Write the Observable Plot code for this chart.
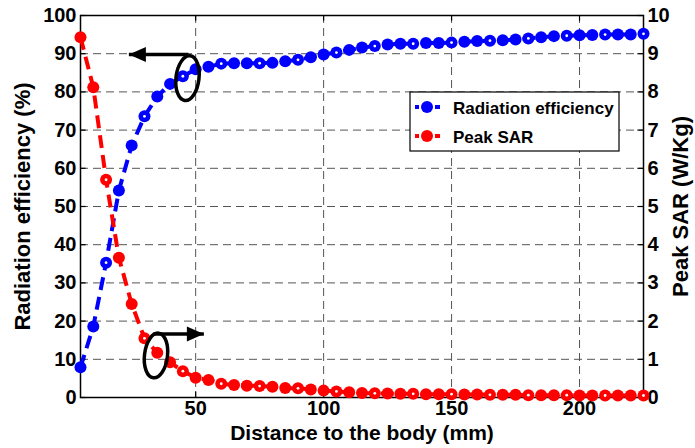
<!DOCTYPE html>
<html>
<head>
<meta charset="utf-8">
<script src="https://cdn.jsdelivr.net/npm/d3@7"></script>
<script src="https://cdn.jsdelivr.net/npm/@observablehq/plot@0.6"></script>
<style>
  html, body { margin: 0; padding: 0; background: white; }
</style>
</head>
<body>
<div id="chart"></div>
<script>
// ---- data ----
const distance = [5,10,15,20,25,30,35,40,45,50,55,60,65,70,75,80,85,90,95,100,
  105,110,115,120,125,130,135,140,145,150,155,160,165,170,175,180,185,190,195,200,
  205,210,215,220,225];
const efficiency = [7.9,18.6,35.3,54.2,66.0,73.6,78.8,82.1,84.1,85.9,86.6,87.4,
  87.5,87.5,87.5,87.6,88.0,88.4,89.1,89.8,
  90.3,91.0,91.6,92.0,92.4,92.6,92.6,92.8,92.8,92.9,
  93.1,93.3,93.4,93.5,93.7,94.0,94.3,94.6,94.7,94.8,
  94.9,95.0,95.0,95.0,95.2];
const peakSAR = [9.43,8.12,5.70,3.66,2.45,1.55,1.17,0.92,0.69,0.52,0.46,0.36,
  0.33,0.31,0.30,0.28,0.25,0.24,0.21,0.18,
  0.16,0.14,0.12,0.11,0.105,0.097,0.097,0.088,0.088,0.088,
  0.079,0.079,0.07,0.07,0.07,0.06,0.06,0.06,0.06,0.052,
  0.052,0.052,0.052,0.052,0.052];
const xTicks = [50, 100, 150, 200];
const yTicks = [0,10,20,30,40,50,60,70,80,90,100];        // left axis (%)
const yGrid = [10,20,30,40,50,60,70,80,90];
const sarTicks = [0,1,2,3,4,5,6,7,8,9,10];                  // right axis (W/Kg)
const seriesNames = ["Radiation efficiency", "Peak SAR"];
const seriesColors = ["#0000ff", "#ff0000"];
// annotation anchors (data coordinates)
const ellipses = [{x: 46.8, y: 83.6}, {x: 34.5, y: 11.0}];
const arrows = [{x1: 47.2, x2: 23.9, y: 89.8, dir: "left"}, {x1: 33.5, x2: 53.2, y: 16.6, dir: "right"}];

const sarScale = 10; // right axis mapped onto left scale
const effData = distance.map((d, i) => ({x: d, y: efficiency[i]}));
const sarData = distance.map((d, i) => ({x: d, y: peakSAR[i] * sarScale}));

// custom symbols (pixel-space shapes)
const ellipseSymbol = {
  draw(ctx) {
    const rx = 11.5, ry = 22.5, a = 0.12, k = 0.5523;
    const c = Math.cos(a), s = Math.sin(a);
    const p = (x, y) => [x * c - y * s, x * s + y * c];
    const pts = [
      [p(rx,0), p(rx, k*ry), p(k*rx, ry), p(0, ry)],
      [p(0, ry), p(-k*rx, ry), p(-rx, k*ry), p(-rx, 0)],
      [p(-rx,0), p(-rx,-k*ry), p(-k*rx,-ry), p(0,-ry)],
      [p(0,-ry), p(k*rx,-ry), p(rx,-k*ry), p(rx,0)]
    ];
    ctx.moveTo(...pts[0][0]);
    for (const q of pts) ctx.bezierCurveTo(...q[1], ...q[2], ...q[3]);
    ctx.closePath();
  }
};
const headSymbol = {
  draw(ctx) {
    ctx.moveTo(0, 0);
    ctx.lineTo(-17, -7.5);
    ctx.lineTo(-17, 7.5);
    ctx.closePath();
  }
};

const font = "'Liberation Sans', Arial, Helvetica, sans-serif";
const gridStyle = {stroke: "#555", strokeOpacity: 1, strokeWidth: 1, strokeDasharray: "8,5"};

const chart = Plot.plot({
  width: 695,
  height: 448,
  marginLeft: 80,
  marginRight: 52,
  marginTop: 15,
  marginBottom: 51,
  style: {fontFamily: font, fontSize: "20px", fontWeight: "bold", background: "white", color: "black", overflow: "visible"},
  x: {domain: [5, 225]},
  y: {domain: [0, 100]},
  marks: [
    Plot.gridX(xTicks, gridStyle),
    Plot.gridY(yGrid, gridStyle),
    // inward tick marks
    Plot.ruleY(yTicks, {x1: 5, x2: 7.2, stroke: "black", strokeWidth: 1.2}),
    Plot.ruleY(yTicks, {x1: 222.8, x2: 225, stroke: "black", strokeWidth: 1.2}),
    Plot.ruleX(xTicks, {y1: 0, y2: 1.5, stroke: "black", strokeWidth: 1.2}),
    Plot.ruleX(xTicks, {y1: 98.5, y2: 100, stroke: "black", strokeWidth: 1.2}),
    Plot.frame({stroke: "black", strokeWidth: 1.5}),
    Plot.axisX({ticks: xTicks, tickSize: 0, tickPadding: 3, label: null, fill: "black"}),
    Plot.axisY({anchor: "left", ticks: yTicks, tickSize: 0, tickPadding: 4, label: null, fill: "black"}),
    Plot.axisY({anchor: "right", ticks: sarTicks.map(d => d * sarScale), tickFormat: d => d / sarScale, tickSize: 0, tickPadding: 4, label: null, fill: "black"}),
    // axis titles
    Plot.text(["Distance to the body (mm)"], {frameAnchor: "bottom", dy: 42, textAnchor: "middle", fontSize: 21, fontWeight: "bold", fill: "black"}),
    Plot.text(["Radiation efficiency (%)"], {frameAnchor: "left", dx: -58, textAnchor: "middle", rotate: -90, fontSize: 22, fontWeight: "bold", fill: "black"}),
    Plot.text(["Peak SAR (W/Kg)"], {frameAnchor: "right", dx: 37, textAnchor: "middle", rotate: -90, fontSize: 22, fontWeight: "bold", fill: "black"}),
    // efficiency series
    Plot.line(effData, {x: "x", y: "y", stroke: seriesColors[0], strokeWidth: 4, strokeDasharray: "13,7", strokeLinecap: "butt"}),
    Plot.dot(effData, {x: "x", y: "y", r: 6, fill: seriesColors[0], stroke: "none"}),
    Plot.dot(effData.filter(d => d.x % 15 === 0), {x: "x", y: "y", r: 1.4, fill: "white", stroke: "none"}),
    // SAR series
    Plot.line(sarData, {x: "x", y: "y", stroke: seriesColors[1], strokeWidth: 4, strokeDasharray: "13,7", strokeLinecap: "butt"}),
    Plot.dot(sarData, {x: "x", y: "y", r: 6, fill: seriesColors[1], stroke: "none"}),
    Plot.dot(sarData.filter(d => d.x % 15 === 0), {x: "x", y: "y", r: 1.4, fill: "white", stroke: "none"}),
    // annotations
    Plot.dot(ellipses, {x: "x", y: "y", symbol: ellipseSymbol, fill: "none", stroke: "black", strokeWidth: 3.5}),
    Plot.link(arrows, {x1: "x1", x2: "x2", y1: "y", y2: "y", stroke: "black", strokeWidth: 3.5}),
    Plot.dot(arrows, {x: "x2", y: "y", symbol: headSymbol, rotate: d => d.dir === "left" ? 180 : 0, fill: "black", stroke: "none"})
  ]
});

// legend box
const svg = d3.select(chart);
const lg = svg.append("g").attr("font-family", font).attr("font-weight", "bold").attr("text-anchor", "start");
lg.append("rect").attr("x", 410).attr("y", 92).attr("width", 209).attr("height", 59)
  .attr("fill", "white").attr("stroke", "black").attr("stroke-width", 1.2);
seriesNames.forEach((name, i) => {
  const cy = 107 + i * 29;
  lg.append("line").attr("x1", 415).attr("x2", 440).attr("y1", cy).attr("y2", cy)
    .attr("stroke", seriesColors[i]).attr("stroke-width", 4);
  lg.append("line").attr("x1", 419).attr("x2", 422).attr("y1", cy).attr("y2", cy)
    .attr("stroke", "white").attr("stroke-width", 5);
  lg.append("line").attr("x1", 432).attr("x2", 435).attr("y1", cy).attr("y2", cy)
    .attr("stroke", "white").attr("stroke-width", 5);
  lg.append("circle").attr("cx", 427).attr("cy", cy).attr("r", 6).attr("fill", seriesColors[i]);
  lg.append("text").attr("x", 453).attr("y", cy + 7).attr("font-size", 17).attr("fill", "black").text(name);
});

document.getElementById("chart").appendChild(chart);
</script>
</body>
</html>
